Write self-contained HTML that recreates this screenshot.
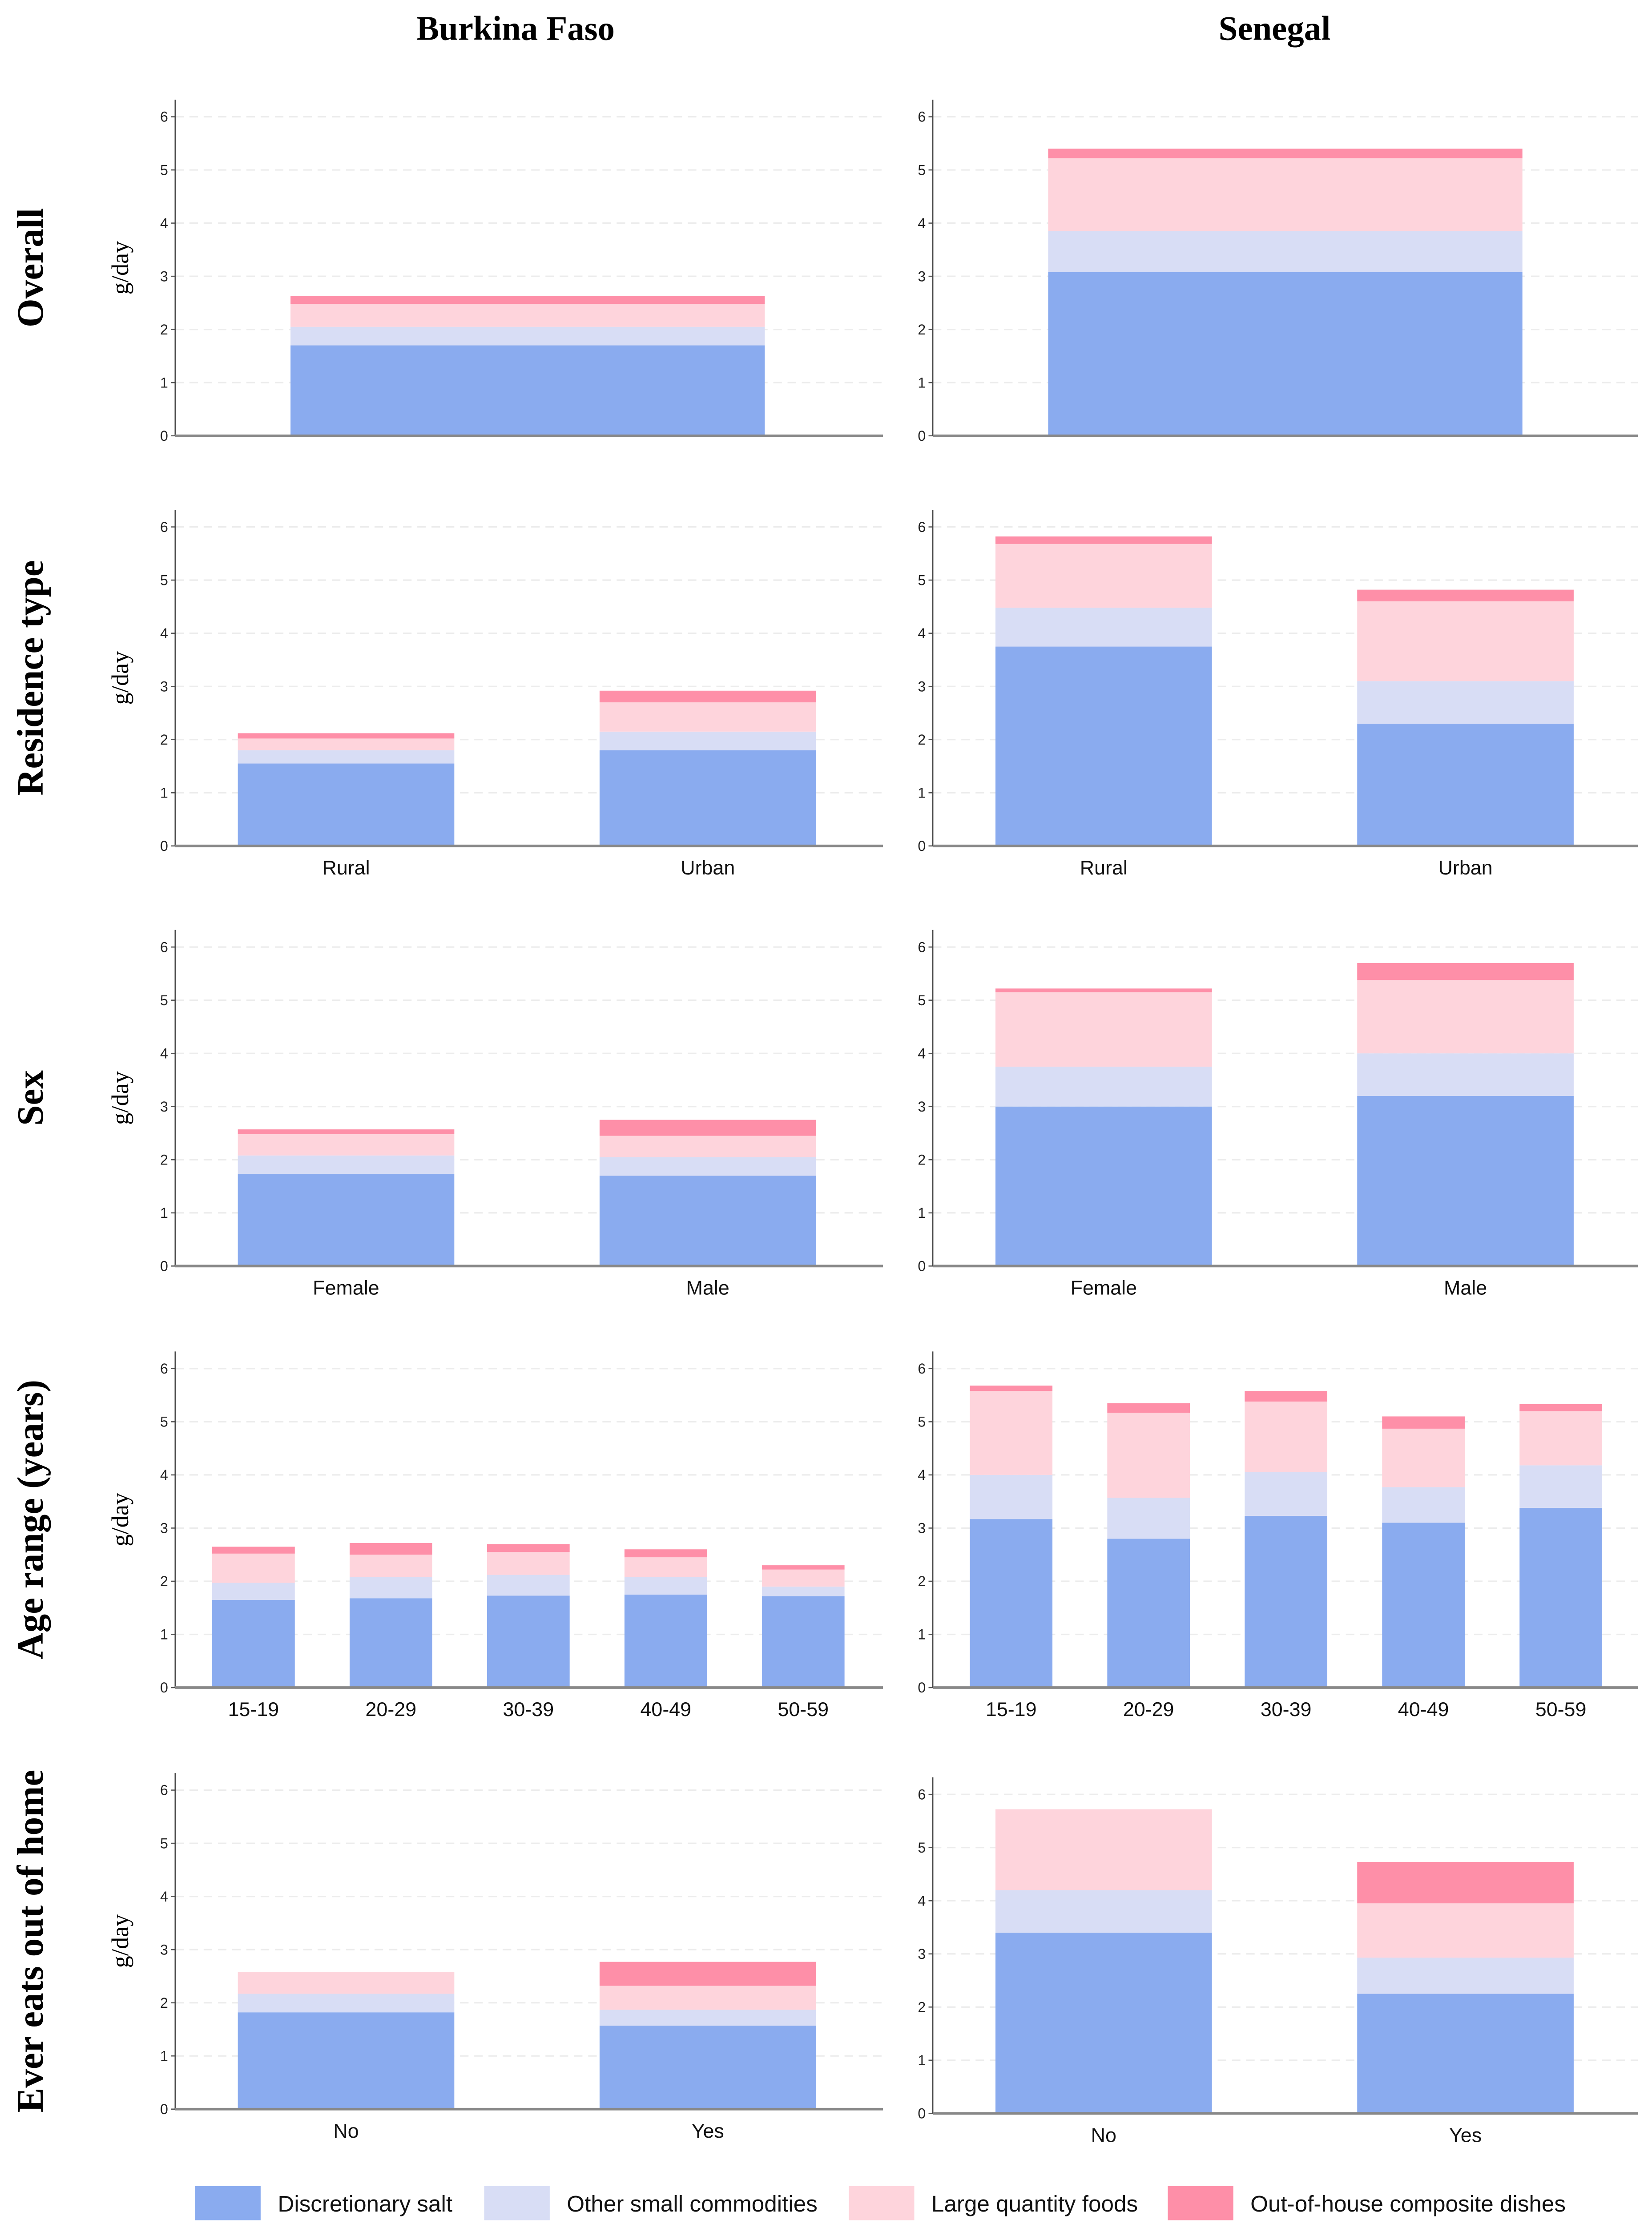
<!DOCTYPE html>
<html><head><meta charset="utf-8"><style>html,body{margin:0;padding:0;background:#fff;width:3714px;height:5035px;overflow:hidden}svg{display:block}</style></head>
<body>
<svg id="chart" xmlns="http://www.w3.org/2000/svg" width="3714" height="5035" viewBox="0 0 1160 1572.6" preserveAspectRatio="none">
<text x="362" y="28" text-anchor="middle" font-family="Liberation Serif, serif" font-weight="bold" font-size="24">Burkina Faso</text>
<text x="895" y="28" text-anchor="middle" font-family="Liberation Serif, serif" font-weight="bold" font-size="24">Senegal</text>
<g id="panels"></g>
<g id="legend"></g>
</svg>
<script>
const rowLabels = ["Overall","Residence type","Sex","Age range (years)","Ever eats out of home"];
const rowCategories = [[""],["Rural","Urban"],["Female","Male"],["15-19","20-29","30-39","40-49","50-59"],["No","Yes"]];
const yTicks = [0,1,2,3,4,5,6];
const seriesNames = ["Discretionary salt","Other small commodities","Large quantity foods","Out-of-house composite dishes"];
// Burkina Faso segment values per row
const bfDiscretionary = [[1.7],[1.55,1.8],[1.73,1.7],[1.65,1.68,1.73,1.75,1.72],[1.82,1.57]];
const bfOtherSmall = [[0.35],[0.25,0.35],[0.35,0.35],[0.32,0.4,0.39,0.33,0.18],[0.35,0.3]];
const bfLargeQuantity = [[0.43],[0.22,0.55],[0.4,0.4],[0.55,0.42,0.43,0.37,0.32],[0.41,0.45]];
const bfOutOfHouse = [[0.15],[0.1,0.22],[0.09,0.3],[0.13,0.22,0.15,0.15,0.08],[0,0.45]];
// Senegal segment values per row
const snDiscretionary = [[3.08],[3.75,2.3],[3.0,3.2],[3.17,2.8,3.23,3.1,3.38],[3.4,2.25]];
const snOtherSmall = [[0.77],[0.73,0.8],[0.75,0.8],[0.83,0.77,0.82,0.67,0.8],[0.8,0.68]];
const snLargeQuantity = [[1.37],[1.2,1.5],[1.4,1.38],[1.58,1.6,1.33,1.1,1.02],[1.52,1.02]];
const snOutOfHouse = [[0.18],[0.14,0.22],[0.07,0.32],[0.1,0.18,0.2,0.23,0.13],[0,0.78]];

const colors = ["#8aabef","#d8ddf5","#fed4dc","#fe8fa8"];
const NS = "http://www.w3.org/2000/svg";
const root = document.getElementById("panels");
function mk(tag, attrs, parent, text){
  const e = document.createElementNS(NS, tag);
  for (const k in attrs) e.setAttribute(k, attrs[k]);
  if (text !== undefined) e.textContent = text;
  parent.appendChild(e);
  return e;
}
const zeroYs = [306,594,889,1185,1481];
const unit = 224/6;
const cols = [
  {name:"burkina-faso", x0:123, x1:620, yTitle:true, series:[bfDiscretionary,bfOtherSmall,bfLargeQuantity,bfOutOfHouse]},
  {name:"senegal", x0:655, x1:1150, yTitle:false, series:[snDiscretionary,snOtherSmall,snLargeQuantity,snOutOfHouse]}
];
rowLabels.forEach((lab, r) => {
  const zy0 = zeroYs[r];
  const cy = zy0 - 118;
  const t = mk("text",{x:0,y:0,transform:`translate(30,${cy}) rotate(-90)`,"text-anchor":"middle","font-family":"Liberation Serif, serif","font-weight":"bold","font-size":"26"},root,lab);
  
  
  cols.forEach((c, ci) => {
    const zy = (r===4 && ci===1) ? zy0+3 : zy0;
    const g = mk("g",{},root);
    
    
    const yS = v => zy - v*unit;
    if (c.yTitle){
      const gd = mk("text",{x:0,y:0,transform:`translate(${c.x0-33},${zy-118}) rotate(-90)`,"text-anchor":"middle","font-family":"Liberation Serif, serif","font-size":"17"},g,"g/day");
      
      
    }
    yTicks.forEach(tv => {
      if (tv>0){
        const gl = mk("line",{x1:c.x0,x2:c.x1,y1:yS(tv),y2:yS(tv),stroke:"#ececec","stroke-width":"1","stroke-dasharray":"6,4"},g);
        
        
      }
      mk("line",{x1:c.x0-3,x2:c.x0,y1:yS(tv),y2:yS(tv),stroke:"#555","stroke-width":"0.8"},g);
      const tl = mk("text",{x:c.x0-5,y:yS(tv)+3.5,"text-anchor":"end","font-family":"Liberation Sans, sans-serif","font-size":"10",fill:"#222"},g,String(tv));
      
      
    });
    const cats = rowCategories[r];
    const n = cats.length;
    const bw = n===1 ? 333 : (n===2 ? 152 : 58);
    cats.forEach((cat, i) => {
      let cx;
      if (n===1) cx = c.x0 + 247.5;
      else if (n===2) cx = c.x0 + 120 + i*254;
      else cx = c.x0 + 55 + i*96.5;
      let acc = 0;
      c.series.forEach((s, si) => {
        const v = s[r][i];
        if (v>0){
          const rect = mk("rect",{x:cx-bw/2,y:yS(acc+v),width:bw,height:v*unit,fill:colors[si]},g);
          
          
        }
        acc += v;
      });
      if (cat){
        const cl = mk("text",{x:cx,y:zy+20,"text-anchor":"middle","font-family":"Liberation Sans, sans-serif","font-size":"14",fill:"#111"},g,cat);
        
        
      }
    });
    mk("line",{x1:c.x0,x2:c.x0,y1:zy-236,y2:zy,stroke:"#444","stroke-width":"0.8"},g);
    mk("line",{x1:c.x0,x2:c.x1,y1:zy,y2:zy,stroke:"#888","stroke-width":"1.8"},g);
  });
});
const leg = document.getElementById("legend");
const legBoxX = [137,340,596,820];
seriesNames.forEach((nm, i) => {
  const b = mk("rect",{x:legBoxX[i],y:1535,width:46,height:24,fill:colors[i]},leg);
  
  
  const t = mk("text",{x:legBoxX[i]+58,y:1553,"font-family":"Liberation Sans, sans-serif","font-size":"16",fill:"#111"},leg,nm);
  
  
});
</script>
</body></html>
